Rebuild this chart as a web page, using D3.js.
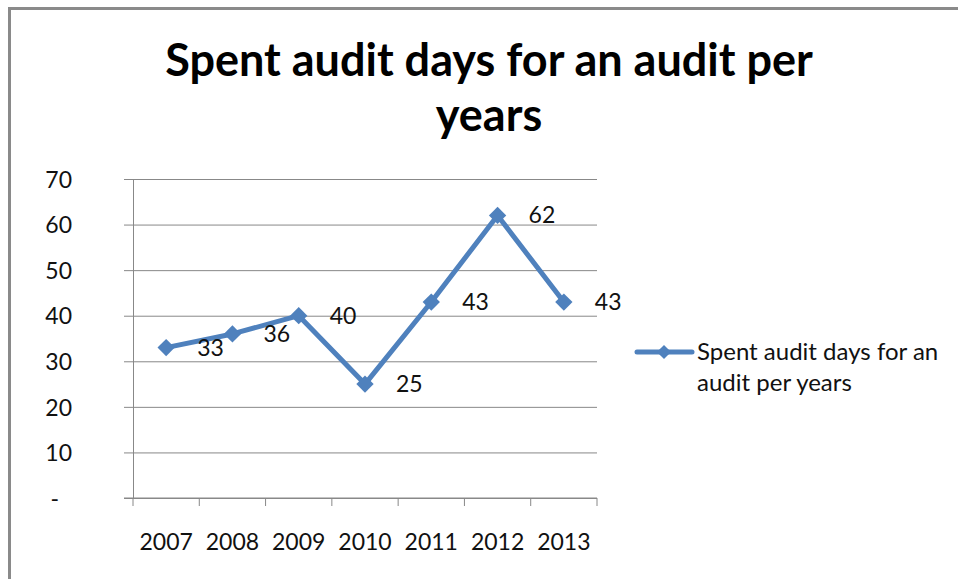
<!DOCTYPE html>
<html>
<head>
<meta charset="utf-8">
<script src="https://cdn.jsdelivr.net/npm/d3@7"></script>
<style>
  html, body { margin: 0; padding: 0; background: #fff; overflow: hidden; }
  svg { display: block; font-family: Lato, "Open Sans", sans-serif; }
</style>
</head>
<body>
<svg id="chart" width="958" height="579"></svg>
<script>
// Audit days spent per audit, by year
const years = ["2007", "2008", "2009", "2010", "2011", "2012", "2013"];
const auditDays = [33, 36, 40, 25, 43, 62, 43];
const yTicks = [0, 10, 20, 30, 40, 50, 60, 70];
const titleLines = ["Spent audit days for an audit per", "years"];
const seriesName = ["Spent audit days for an", "audit per years"];

const svg = d3.select("#chart");
const blue = "#4F81BD";
const gridColor = "#888888";
const labelSize = 23;

// chart frame (runs off the right and bottom edges)
svg.append("rect")
  .attr("x", 9.5).attr("y", 8.5)
  .attr("width", 1200).attr("height", 1200)
  .attr("fill", "#fff")
  .attr("stroke", "#8a8a8a").attr("stroke-width", 3);

// title
const title = svg.append("text")
  .attr("text-anchor", "middle")
  .attr("font-weight", "bold")
  .attr("font-size", 45)
  .attr("fill", "#000");
title.selectAll("tspan").data(titleLines).join("tspan")
  .attr("x", 489)
  .attr("y", (d, i) => 76 + i * 55)
  .text(d => d);

const plot = { left: 133, right: 597, top: 179, bottom: 498 };

const x = d3.scaleBand().domain(years).range([plot.left, plot.right]).padding(0);
const y = d3.scaleLinear().domain([0, 70]).range([plot.bottom, plot.top]);

// horizontal gridlines with left tick marks
const yAxis = d3.axisLeft(y)
  .tickValues(yTicks)
  .tickSize(-(plot.right - plot.left))
  .tickSizeOuter(0)
  .tickFormat(d => d === 0 ? "-" : d3.format("d")(d));
const gy = svg.append("g")
  .attr("transform", `translate(${plot.left},0)`)
  .call(yAxis);
gy.select(".domain").attr("stroke", gridColor).attr("stroke-width", 1);
gy.selectAll(".tick line")
  .attr("x1", -9)
  .attr("stroke", gridColor).attr("stroke-width", 1);
gy.selectAll(".tick text")
  .attr("x", -61)
  .attr("dx", d => d === 0 ? -13 : 0)
  .attr("dy", "0.36em")
  .attr("font-size", labelSize)
  .attr("font-family", "Lato, sans-serif")
  .attr("fill", "#111");

// category axis: tick marks on band boundaries, labels at band centres
const gx = svg.append("g").attr("transform", `translate(0,${plot.bottom})`);
gx.append("line")
  .attr("x1", plot.left - 9).attr("x2", plot.right)
  .attr("stroke", gridColor).attr("stroke-width", 1);
const boundaries = years.map(d => x(d)).concat([x(years[years.length - 1]) + x.bandwidth()]);
gx.selectAll("line.tick").data(boundaries).join("line")
  .attr("class", "tick")
  .attr("x1", d => d).attr("x2", d => d)
  .attr("y1", 0).attr("y2", 8)
  .attr("stroke", gridColor).attr("stroke-width", 1);
gx.selectAll("text").data(years).join("text")
  .attr("x", d => x(d) + x.bandwidth() / 2)
  .attr("y", 52)
  .attr("text-anchor", "middle")
  .attr("font-size", labelSize)
  .attr("fill", "#111")
  .text(d => d);

// series line
const cx = (d, i) => x(years[i]) + x.bandwidth() / 2;
const line = d3.line().x(cx).y(d => y(d));
svg.append("path")
  .datum(auditDays)
  .attr("d", line)
  .attr("fill", "none")
  .attr("stroke", blue)
  .attr("stroke-width", 5)
  .attr("stroke-linejoin", "round");

// diamond markers
const diamond = d3.symbol().type(d3.symbolSquare).size(150);
svg.selectAll("path.marker").data(auditDays).join("path")
  .attr("class", "marker")
  .attr("d", diamond)
  .attr("transform", (d, i) => `translate(${cx(d, i)},${y(d)}) rotate(45)`)
  .attr("fill", blue);

// value labels to the right of each point
svg.selectAll("text.value").data(auditDays).join("text")
  .attr("class", "value")
  .attr("x", (d, i) => cx(d, i) + 31)
  .attr("y", d => y(d) + 8)
  .attr("font-size", labelSize)
  .attr("fill", "#111")
  .text(d => d);

// legend
const lg = svg.append("g");
lg.append("line")
  .attr("x1", 637).attr("x2", 692)
  .attr("y1", 352).attr("y2", 352)
  .attr("stroke", blue).attr("stroke-width", 5)
  .attr("stroke-linecap", "round");
lg.append("path")
  .attr("d", d3.symbol().type(d3.symbolSquare).size(100))
  .attr("transform", "translate(664,352) rotate(45)")
  .attr("fill", blue);
const lt = lg.append("text").attr("font-size", 24).attr("fill", "#111");
lt.selectAll("tspan").data(seriesName).join("tspan")
  .attr("x", 697)
  .attr("y", (d, i) => 360 + i * 31)
  .text(d => d);
</script>
</body>
</html>
